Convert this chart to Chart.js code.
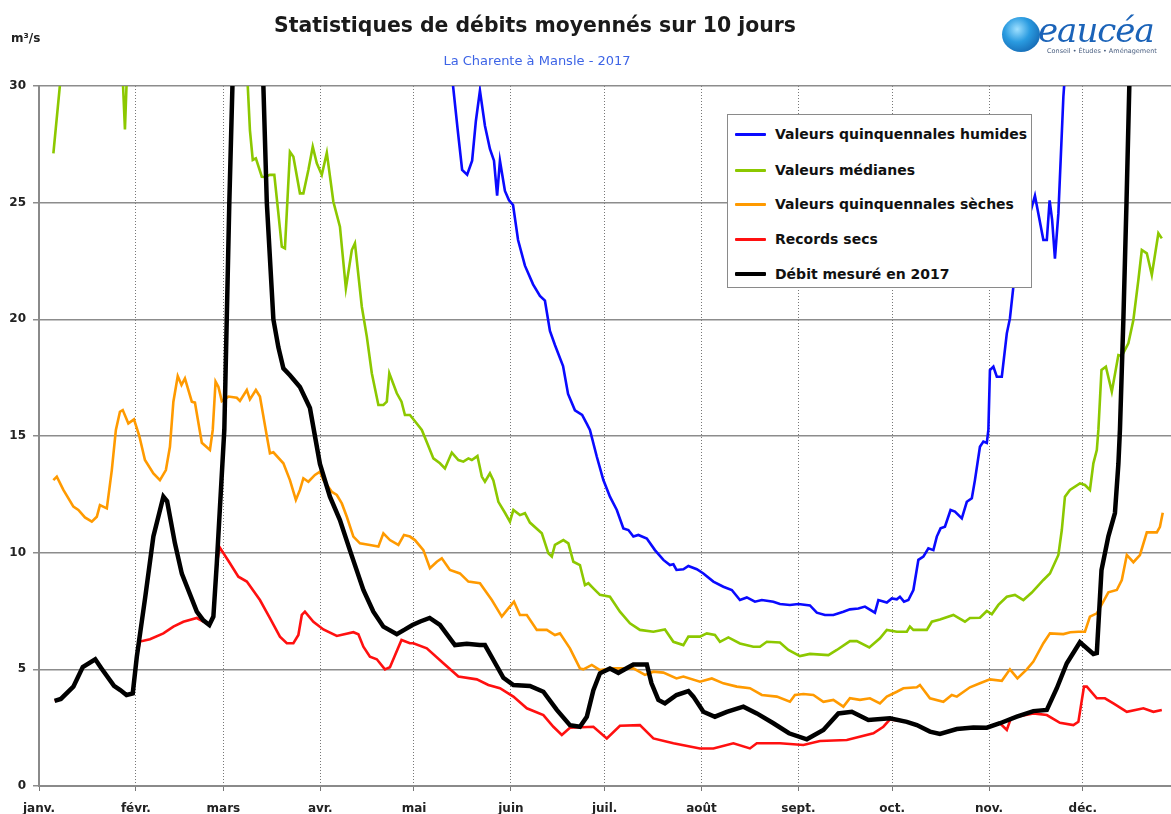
<!DOCTYPE html>
<html lang="fr">
<head>
<meta charset="utf-8">
<title>Statistiques de débits moyennés sur 10 jours</title>
<script src="https://cdn.jsdelivr.net/npm/chart.js@4.4.1/dist/chart.umd.min.js"></script>
<style>
  html, body { margin: 0; padding: 0; background: #fff; }
  #wrap { position: relative; width: 1171px; height: 814px; overflow: hidden; font-family: "DejaVu Sans", Verdana, sans-serif; }
  #chart { position: absolute; left: 0; top: 0; }
  .title { position: absolute; left: 535px; top: 15px; transform: translateX(-50%); white-space: nowrap;
           font-size: 20.4px; line-height: 20px; font-weight: bold; color: #1a1a1a; }
  .subtitle { position: absolute; left: 537px; top: 54px; transform: translateX(-50%); white-space: nowrap;
              font-size: 13px; line-height: 13px; color: #3d64e6; }
  .unit { position: absolute; left: 11px; top: 32px; font-size: 12px; line-height: 12px; font-weight: bold; color: #222; }
  .legend { position: absolute; left: 727px; top: 114px; width: 305px; height: 174px; background: #fff;
            border: 1.5px solid #8a8a8a; box-sizing: border-box; }
  .legend .row { position: absolute; left: 0; height: 20px; display: flex; align-items: center; white-space: nowrap;
                 font-size: 14px; font-weight: bold; color: #111; }
  .legend .sw { width: 31px; margin-left: 7px; margin-right: 9px; border-radius: 1px; }
  .logo { position: absolute; left: 1000px; top: 10px; width: 171px; height: 50px; }
  .logo .ball { position: absolute; left: 2px; top: 7px; width: 38px; height: 35px; border-radius: 50%;
                background: radial-gradient(circle at 40% 35%, #9fe0ff 0%, #2a9be0 40%, #0a4f9c 100%); }
  .logo .word { position: absolute; left: 38px; top: 0px; font-family: "DejaVu Serif", serif; font-style: italic;
                font-size: 34px; line-height: 40px; color: #1b63b8; letter-spacing: -1px; }
  .logo .tag { position: absolute; left: 47px; top: 37px; font-size: 6.5px; line-height: 8px; color: #4a5f80; white-space: nowrap; }
</style>
</head>
<body>
<div id="wrap">
  <canvas id="chart" width="1171" height="814"></canvas>
  <div class="title">Statistiques de débits moyennés sur 10 jours</div>
  <div class="subtitle">La Charente à Mansle - 2017</div>
  <div class="unit">m³/s</div>
  <div class="logo">
    <div class="ball"></div>
    <div class="word">eaucéa</div>
    <div class="tag">Conseil • Études • Aménagement</div>
  </div>
  <div class="legend" id="legend"></div>
</div>
<script>
// month ticks (day of year, 0 = 1 January)
const monthStarts = [0, 31, 59, 90, 120, 151, 181, 212, 243, 273, 304, 334];
const monthLabels = ['janv.', 'févr.', 'mars', 'avr.', 'mai', 'juin', 'juil.', 'août', 'sept.', 'oct.', 'nov.', 'déc.'];

// Valeurs quinquennales humides
const wetDays = [5, 60, 120, 130, 132.5, 134, 135.4, 137, 138.6, 139.8, 141.1, 142.7, 144.3, 145.6, 146.6, 147.5, 149.1, 150.4, 151.7, 153.3, 155.5, 158.1, 160.3, 161.9, 163.5, 165.1, 167.7, 169.3, 171.5, 173.8, 175.4, 176.3, 178.5, 180.6, 182.7, 184.9, 187, 188.6, 190.2, 191.8, 194.5, 197.1, 199.8, 201.9, 203, 204, 206.2, 207.8, 210.5, 212.6, 215.8, 219, 221.7, 224.3, 226.5, 229.1, 231.3, 232.9, 235, 237.1, 240.3, 243, 246.7, 248.9, 251.5, 254.2, 257.4, 259.5, 262.2, 264.3, 267.5, 268.6, 271.3, 272.9, 274.5, 275.5, 276.8, 278.2, 279.8, 281.4, 283, 284.6, 286.2, 287.3, 288.5, 289.9, 291.7, 293.1, 295.3, 296.9, 298.5, 299.5, 301.1, 302.2, 303.3, 303.8, 304.3, 305.4, 306.5, 308.1, 309.7, 310.7, 311.8, 315, 318.7, 321.4, 322.5, 323.4, 324.2, 325.1, 326.2, 327.8, 328.3, 330, 335, 362];
const wetFlow = [40, 42, 38, 33, 30, 28.1, 26.4, 26.2, 26.8, 28.5, 29.8, 28.3, 27.3, 26.8, 25.3, 26.8, 25.5, 25.1, 24.9, 23.4, 22.3, 21.5, 21.0, 20.8, 19.5, 18.9, 18.0, 16.8, 16.1, 15.9, 15.5, 15.26, 14.11, 13.11, 12.4, 11.83, 11.04, 10.97, 10.69, 10.76, 10.61, 10.11, 9.69, 9.47, 9.5, 9.26, 9.29, 9.43, 9.29, 9.11, 8.76, 8.54, 8.4, 7.97, 8.08, 7.9, 7.97, 7.94, 7.9, 7.8, 7.76, 7.8, 7.74, 7.43, 7.33, 7.33, 7.47, 7.57, 7.61, 7.69, 7.43, 7.97, 7.86, 8.04, 8.0, 8.11, 7.9, 7.97, 8.4, 9.69, 9.83, 10.19, 10.11, 10.69, 11.04, 11.11, 11.83, 11.76, 11.47, 12.18, 12.33, 13.11, 14.54, 14.76, 14.7, 15.26, 17.83, 17.97, 17.54, 17.54, 19.4, 20.04, 21.4, 23.5, 25.3, 23.4, 23.4, 25.1, 24.26, 22.6, 24.54, 29.54, 30.5, 31, 40, 45];

// Valeurs médianes
const medDays = [4.6, 6.7, 8, 15, 22, 26.5, 26.9, 27.5, 28, 28.5, 35, 45, 55, 63, 66.8, 67.5, 68.4, 69.4, 71.3, 72.3, 73.9, 75.3, 76.6, 77.7, 78.7, 80.3, 81.4, 83.5, 84.6, 86.2, 87.6, 88.9, 90.5, 92.1, 94.2, 96.3, 98.2, 100.1, 101.1, 103.3, 104.9, 106.5, 108.6, 110.2, 111.3, 112.1, 114.5, 116, 117.1, 118.7, 120.5, 122.5, 124.5, 126.2, 128.3, 129.9, 132.1, 134.2, 135.8, 137.4, 138.5, 140.3, 141.7, 142.7, 144.3, 145.4, 147, 149.1, 150.7, 151.8, 153.9, 155.5, 157.1, 160.9, 163, 164.1, 165.1, 167.8, 169.4, 171, 173.1, 174.7, 175.8, 177.4, 179.5, 182.7, 185.9, 189.1, 192.3, 196.6, 200.3, 203, 206.2, 207.8, 211.5, 213.7, 216.3, 217.9, 220.6, 224.3, 228.6, 230.7, 232.9, 237.1, 239.8, 243.5, 246.7, 252.6, 255.3, 259.5, 261.7, 265.7, 269.1, 271.3, 274.5, 277.7, 278.7, 279.8, 284.1, 285.7, 288.3, 292.6, 296.3, 297.9, 301.1, 303.3, 304.9, 307, 309.7, 312.3, 315, 317.7, 321.4, 323.5, 326.2, 327.3, 328.3, 329.9, 333.1, 334.7, 336.3, 337.4, 338.5, 339, 340, 341.4, 343.3, 345.4, 346.5, 348.6, 350.2, 351.8, 352.9, 354.5, 356.1, 358.2, 359.3];
const medFlow = [27.11, 30.04, 33, 34, 34, 32, 30, 28.14, 30, 32, 34, 35, 35, 33, 30, 28.1, 26.83, 26.9, 26.11, 26.1, 26.19, 26.19, 24.54, 23.11, 23.04, 27.18, 26.97, 25.4, 25.4, 26.4, 27.4, 26.69, 26.19, 27.14, 25.04, 23.97, 21.33, 22.97, 23.26, 20.54, 19.26, 17.69, 16.33, 16.33, 16.47, 17.69, 16.83, 16.47, 15.9, 15.9, 15.6, 15.26, 14.6, 14.04, 13.83, 13.61, 14.29, 13.97, 13.9, 14.04, 13.97, 14.14, 13.26, 13.04, 13.4, 13.1, 12.18, 11.71, 11.33, 11.83, 11.61, 11.69, 11.29, 10.83, 9.97, 9.83, 10.33, 10.54, 10.4, 9.61, 9.47, 8.61, 8.69, 8.47, 8.19, 8.11, 7.47, 6.97, 6.69, 6.61, 6.71, 6.18, 6.04, 6.4, 6.4, 6.54, 6.47, 6.18, 6.37, 6.11, 5.97, 5.97, 6.18, 6.15, 5.83, 5.57, 5.66, 5.61, 5.83, 6.21, 6.21, 5.94, 6.33, 6.69, 6.61, 6.61, 6.83, 6.69, 6.69, 7.04, 7.14, 7.33, 7.04, 7.2, 7.21, 7.5, 7.36, 7.76, 8.11, 8.19, 7.97, 8.29, 8.83, 9.11, 9.9, 10.97, 12.4, 12.69, 12.97, 12.9, 12.69, 13.83, 14.4, 15.26, 17.83, 17.97, 16.9, 18.47, 18.43, 18.97, 19.97, 21.69, 22.97, 22.83, 21.9, 23.69, 23.47];

// Valeurs quinquennales sèches
const dryDays = [4.6, 5.7, 7.8, 11, 12.6, 14.7, 16.9, 18.5, 19.5, 21.7, 23.3, 24.6, 25.9, 26.8, 28.6, 30.4, 32.1, 33.9, 36.6, 38.7, 40.6, 41.9, 43, 44.4, 45.6, 46.7, 48.9, 49.9, 52.1, 54.7, 55.6, 56.5, 57.4, 58.5, 60.6, 63.3, 64.3, 66.5, 67.5, 69.4, 70.7, 72.9, 73.9, 75, 78.2, 80.3, 82.2, 83.5, 84.6, 86.2, 88.3, 89.9, 91, 93.7, 95.3, 96.9, 98.5, 100.6, 102.7, 105.9, 108.6, 110.2, 112.3, 115, 116.8, 118.7, 120.3, 123, 125.1, 127.3, 128.9, 131.5, 134.7, 137.4, 141.1, 144.9, 148.1, 150.2, 152, 153.9, 156.1, 159.3, 162.5, 165.1, 166.7, 169.9, 173.1, 174.2, 176.9, 179.5, 183.8, 190.2, 193.9, 196.6, 199.8, 204, 206.2, 211.5, 215.3, 219, 223.3, 227.5, 231.3, 236.1, 240.3, 241.9, 244.6, 247.8, 251, 254.2, 257.4, 259.5, 262.7, 265.9, 269.1, 271.3, 274.5, 276.6, 280.9, 281.9, 285.1, 289.4, 292.1, 293.7, 297.9, 301.1, 304.3, 308.1, 310.7, 313.1, 316.1, 318.2, 321.4, 323.5, 327.8, 330, 332.6, 334.7, 336.3, 338.5, 342.2, 344.9, 346.5, 348.1, 350.2, 352.3, 354.5, 357.7, 358.7, 359.6];
const dryFlow = [13.11, 13.26, 12.69, 11.97, 11.83, 11.51, 11.33, 11.54, 12.04, 11.9, 13.54, 15.26, 16.04, 16.11, 15.54, 15.71, 15, 13.97, 13.4, 13.11, 13.54, 14.54, 16.47, 17.57, 17.19, 17.47, 16.47, 16.43, 14.71, 14.4, 15.26, 17.33, 17.11, 16.5, 16.69, 16.64, 16.5, 16.97, 16.57, 16.97, 16.69, 15, 14.26, 14.3, 13.83, 13.11, 12.26, 12.69, 13.19, 13.04, 13.33, 13.47, 13.11, 12.61, 12.47, 12.11, 11.54, 10.69, 10.4, 10.33, 10.26, 10.83, 10.54, 10.33, 10.76, 10.69, 10.54, 10.11, 9.33, 9.61, 9.76, 9.26, 9.11, 8.76, 8.69, 7.97, 7.26, 7.61, 7.9, 7.33, 7.33, 6.69, 6.69, 6.47, 6.54, 5.9, 5.04, 5.0, 5.19, 4.97, 5.04, 5.04, 4.76, 4.9, 4.86, 4.61, 4.69, 4.47, 4.61, 4.4, 4.26, 4.19, 3.9, 3.83, 3.61, 3.9, 3.94, 3.9, 3.61, 3.69, 3.4, 3.76, 3.69, 3.76, 3.54, 3.83, 4.04, 4.19, 4.23, 4.33, 3.76, 3.61, 3.9, 3.83, 4.23, 4.4, 4.57, 4.51, 5.0, 4.61, 5.0, 5.33, 6.12, 6.54, 6.51, 6.59, 6.61, 6.61, 7.26, 7.4, 8.3, 8.4, 8.83, 9.9, 9.59, 9.9, 10.87, 10.87, 11.11, 11.71];

// Records secs
const recDays = [5, 7, 11, 14, 18, 20, 24, 26, 28, 30, 31.3, 32.3, 35.5, 39.8, 43, 46.2, 50.5, 52.6, 54.5, 55.8, 57, 57.8, 61.1, 63.8, 66.5, 70.7, 73.9, 77.1, 79.3, 81.4, 83, 84.1, 85.1, 87.8, 91, 95.3, 100.6, 102.2, 103.8, 105.9, 108.1, 110.7, 112.3, 116, 118.7, 119.8, 124.1, 129.4, 134.2, 140.1, 143.8, 147.5, 151.8, 156.1, 161.4, 164.6, 167.3, 169.9, 177.4, 181.7, 185.9, 192.3, 196.6, 203, 211.5, 215.8, 222.2, 227.5, 229.7, 237.1, 244.6, 249.9, 258.5, 267, 270.2, 272.3, 277.7, 280.9, 285.1, 288.3, 293.7, 299, 303.3, 307.5, 309.7, 311, 312.9, 318.2, 322.5, 326.7, 331, 332.6, 334.4, 335.3, 338.5, 341.1, 343.8, 348.1, 353.4, 356.6, 359.3];
const recFlow = [3.65, 3.73, 4.26, 5.1, 5.43, 5.04, 4.29, 4.11, 3.9, 3.97, 5.54, 6.19, 6.29, 6.54, 6.83, 7.04, 7.2, 7.05, 6.9, 7.26, 9.6, 10.23, 9.55, 8.97, 8.76, 7.97, 7.19, 6.4, 6.12, 6.12, 6.47, 7.33, 7.47, 7.04, 6.71, 6.43, 6.59, 6.5, 5.97, 5.54, 5.43, 5.0, 5.09, 6.26, 6.12, 6.12, 5.9, 5.26, 4.69, 4.57, 4.33, 4.19, 3.83, 3.33, 3.04, 2.54, 2.19, 2.5, 2.54, 2.04, 2.58, 2.61, 2.04, 1.83, 1.61, 1.61, 1.83, 1.61, 1.83, 1.83, 1.76, 1.93, 1.97, 2.26, 2.54, 2.85, 2.75, 2.61, 2.33, 2.23, 2.44, 2.51, 2.5, 2.69, 2.4, 2.9, 2.97, 3.11, 3.04, 2.71, 2.61, 2.75, 4.26, 4.26, 3.76, 3.76, 3.54, 3.18, 3.33, 3.18, 3.26];

// Débit mesuré en 2017
const obsDays = [5, 7, 11, 14, 18, 20, 24, 26, 28, 30, 31.3, 34, 36.6, 39.8, 41, 43.5, 45.7, 50.5, 52.6, 54.5, 55.8, 56.9, 58.1, 59.3, 60.9, 61.9, 63, 65, 67, 69, 71, 71.8, 72.9, 75, 76.6, 78.2, 80.3, 83.5, 86.7, 88.3, 89.9, 93.1, 96.3, 99.5, 103.8, 107, 110.2, 114.5, 117, 119.5, 122, 125, 128.3, 133.1, 136.9, 141, 142.7, 145.4, 148.6, 151.8, 157.1, 161.4, 165.7, 169.9, 173.1, 175.3, 177.4, 179.5, 182.7, 185.4, 190.2, 194.5, 196, 198.2, 200.3, 204, 207.8, 209.4, 212.6, 216.3, 220.1, 225.4, 229.7, 235, 240, 245.7, 251, 255.8, 260.1, 265.4, 272.3, 277.7, 280.9, 285.1, 288.3, 293.7, 299, 303.3, 307.5, 312.9, 318.2, 322.5, 325.7, 328.9, 333.1, 337.4, 338.5, 340, 342.2, 344.3, 345.4, 345.9, 347, 348, 348.9, 351, 355, 362];
const obsFlow = [3.65, 3.73, 4.26, 5.1, 5.43, 5.04, 4.29, 4.11, 3.9, 3.97, 5.54, 8.1, 10.7, 12.4, 12.2, 10.4, 9.1, 7.47, 7.1, 6.9, 7.26, 9.55, 12.4, 15.26, 25, 30, 36, 45, 47, 42, 33.5, 30, 25, 20, 18.8, 17.9, 17.6, 17.1, 16.2, 15, 13.8, 12.4, 11.4, 10.1, 8.4, 7.47, 6.83, 6.51, 6.7, 6.9, 7.05, 7.2, 6.9, 6.04, 6.1, 6.04, 6.04, 5.4, 4.64, 4.33, 4.29, 4.04, 3.26, 2.61, 2.54, 2.97, 4.11, 4.83, 5.04, 4.85, 5.21, 5.21, 4.4, 3.69, 3.54, 3.9, 4.07, 3.83, 3.18, 2.97, 3.18, 3.4, 3.11, 2.69, 2.26, 2.0, 2.4, 3.11, 3.18, 2.83, 2.9, 2.75, 2.61, 2.33, 2.23, 2.44, 2.51, 2.5, 2.69, 2.97, 3.21, 3.26, 4.19, 5.26, 6.16, 5.66, 5.7, 9.26, 10.7, 11.7, 13.8, 15.26, 20, 25, 30, 38, 45, 48];

const toPoints = (days, flow) => days.map((d, i) => ({ x: d, y: flow[i] }));

const series = [
  { label: 'Valeurs quinquennales humides', days: wetDays, flow: wetFlow, color: '#0a0aff', width: 2.6, order: 4 },
  { label: 'Valeurs médianes', days: medDays, flow: medFlow, color: '#8cc800', width: 2.6, order: 3 },
  { label: 'Valeurs quinquennales sèches', days: dryDays, flow: dryFlow, color: '#ff9a00', width: 2.6, order: 2 },
  { label: 'Records secs', days: recDays, flow: recFlow, color: '#ff1010', width: 2.6, order: 1 },
  { label: 'Débit mesuré en 2017', days: obsDays, flow: obsFlow, color: '#000000', width: 4.5, order: 0 }
];

new Chart(document.getElementById('chart'), {
  type: 'line',
  data: {
    datasets: series.map(s => ({
      label: s.label,
      data: toPoints(s.days, s.flow),
      borderColor: s.color,
      backgroundColor: s.color,
      borderWidth: s.width,
      pointRadius: 0,
      tension: 0,
      clip: 0,
      order: s.order
    }))
  },
  options: {
    responsive: false,
    animation: false,
    layout: { padding: { top: 86, left: 0, right: 0, bottom: 0 } },
    plugins: { legend: { display: false }, title: { display: false }, tooltip: { enabled: false } },
    scales: {
      x: {
        type: 'linear',
        min: 0,
        max: 362.24,
        afterBuildTicks: scale => { scale.ticks = monthStarts.map(v => ({ value: v })); },
        afterFit: scale => { scale.height = 28; },
        ticks: {
          autoSkip: false,
          maxRotation: 0,
          padding: 11,
          color: '#222',
          font: { family: 'DejaVu Sans', size: 12, weight: 'bold' },
          callback: (value, index) => monthLabels[index]
        },
        grid: { color: '#777', lineWidth: 1, tickLength: 5 },
        border: { color: '#8a8a8a', width: 2, dash: [1, 2] }
      },
      y: {
        min: 0,
        max: 30,
        afterFit: scale => { scale.width = 39; },
        ticks: {
          stepSize: 5,
          padding: 7,
          color: '#222',
          font: { family: 'DejaVu Sans', size: 12, weight: 'bold' }
        },
        grid: { color: '#8c8c8c', lineWidth: 1.5, tickLength: 6 },
        border: { color: '#8a8a8a', width: 2 }
      }
    }
  }
});

// legend box, same order as the reference
const legend = document.getElementById('legend');
const rowTops = [9, 45, 79, 114, 149];
series.forEach((s, i) => {
  const row = document.createElement('div');
  row.className = 'row';
  row.style.top = rowTops[i] + 'px';
  const sw = document.createElement('span');
  sw.className = 'sw';
  sw.style.height = (s.width > 3 ? 4 : 3) + 'px';
  sw.style.background = s.color;
  const txt = document.createElement('span');
  txt.textContent = s.label;
  row.appendChild(sw);
  row.appendChild(txt);
  legend.appendChild(row);
});
</script>
</body>
</html>
